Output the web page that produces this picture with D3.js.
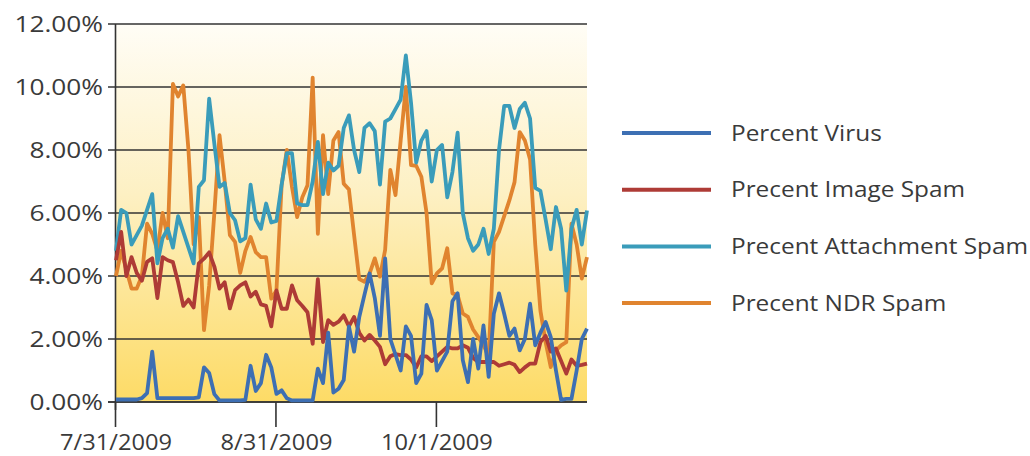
<!DOCTYPE html>
<html lang="en">
<head>
    <meta charset="UTF-8">
    <title>Spam chart</title>
    <script src="https://cdn.jsdelivr.net/npm/d3@7"></script>
    <style>
        body { margin: 0; background: #fff; }
        text { font-family: "Open Sans", sans-serif; fill: #3a3a3a; }
        path.series { fill: none; stroke-width: 3.8px; stroke-linejoin: round; }
        .grid line { stroke: #333; stroke-width: 1.6px; }
    </style>
</head>
<body>
    <svg width=1030 height=456></svg>
    <script>
        // categories: one point per day, first and last day of the data
        var startDay = '7/31/2009',
            endDay = '10/30/2009',
            xTickLabels = ['7/31/2009', '8/31/2009', '10/1/2009'],
            yTicks = [0, 2, 4, 6, 8, 10, 12];

        var seriesNames = ['Percent Virus', 'Precent Image Spam', 'Precent Attachment Spam', 'Precent NDR Spam'];
        var seriesColors = ['#3d6fb3', '#ae3b36', '#3a9cba', '#e0842f'];

        // values in %
        var virus = [0.08,0.08,0.08,0.08,0.08,0.12,0.28,1.6,0.12,0.12,
            0.12,0.12,0.12,0.12,0.12,0.12,0.15,1.1,0.92,0.25,
            0.05,0.05,0.05,0.05,0.05,0.07,1.15,0.35,0.6,1.5,
            1.1,0.26,0.37,0.12,0.05,0.05,0.05,0.05,0.05,1.06,
            0.6,2.2,0.3,0.42,0.7,2.4,1.6,2.7,3.4,4.08,
            3.3,2.1,4.56,2.0,1.5,1.0,2.4,2.1,0.6,0.9,
            3.08,2.6,1.0,1.3,1.6,3.2,3.45,1.33,0.63,2.0,
            1.06,2.43,0.8,2.8,3.45,2.8,2.1,2.33,1.64,2.0,
            3.12,1.8,2.2,2.54,2.06,1.0,0.07,0.1,0.1,1.0,
            2.0,2.33];
        var imageSpam = [4.5,5.4,4.0,4.6,4.1,3.85,4.45,4.56,3.3,4.6,
            4.5,4.44,3.8,3.05,3.25,3.0,4.4,4.55,4.75,4.3,
            3.6,3.8,2.97,3.55,3.7,3.8,3.35,3.5,3.1,3.05,
            2.4,3.54,2.96,2.96,3.7,3.23,3.05,2.85,1.85,3.9,
            1.9,2.6,2.45,2.55,2.75,2.4,2.7,2.2,1.95,2.13,
            1.95,1.75,1.2,1.45,1.52,1.49,1.49,1.35,1.1,1.45,
            1.45,1.3,1.45,1.6,1.75,1.7,1.7,1.8,1.72,1.4,
            1.27,1.27,1.27,1.27,1.15,1.2,1.25,1.18,0.95,1.1,
            1.22,1.22,1.9,2.1,1.6,1.7,1.3,0.9,1.35,1.15,
            1.18,1.22];
        var attachmentSpam = [4.8,6.1,6.0,5.0,5.3,5.6,6.1,6.6,4.4,5.2,
            5.5,4.9,5.9,5.4,4.9,4.4,6.83,7.04,9.63,8.2,
            6.83,6.95,6.0,5.77,5.1,5.2,6.9,5.8,5.5,6.3,
            5.7,5.75,6.9,7.9,7.9,6.3,6.25,6.25,7.0,8.26,
            6.6,7.6,7.35,7.5,8.7,9.1,8.0,7.3,8.7,8.85,
            8.6,6.9,8.9,9.0,9.3,9.6,11.0,9.5,7.6,8.3,
            8.6,7.0,8.0,8.16,6.5,7.3,8.55,6.0,5.2,4.8,
            5.0,5.5,4.7,5.5,8.0,9.4,9.4,8.7,9.3,9.5,
            9.0,6.8,6.7,5.8,4.85,6.19,5.5,3.54,5.5,6.1,
            5.0,6.08];
        var ndrSpam = [4.0,4.8,4.2,3.6,3.6,4.0,5.66,5.34,4.8,6.0,
            5.2,10.1,9.7,10.05,8.0,5.0,5.87,2.28,3.7,6.0,
            8.47,7.0,5.3,5.08,4.1,4.8,5.24,4.76,4.6,4.6,
            3.28,3.54,6.88,8.0,6.83,5.87,6.5,6.88,10.3,5.34,
            8.47,6.6,8.3,8.57,6.93,6.75,5.3,3.9,3.82,4.08,
            4.56,3.98,4.83,7.37,6.57,8.3,10.0,7.52,7.5,7.15,
            6.0,3.77,4.08,4.24,4.88,3.45,3.4,2.81,2.7,2.3,
            2.06,1.8,1.45,5.08,5.4,5.9,6.4,6.98,8.57,8.3,
            7.7,5.0,2.9,1.9,1.11,1.64,1.8,1.9,5.66,5.0,
            3.92,4.6];

        var seriesValues = [virus, imageSpam, attachmentSpam, ndrSpam];

        var svg = d3.select('svg'),
            margin = {top: 24, right: 443, bottom: 54, left: 116},
            chartWidth = 1030 - margin.left - margin.right,
            chartHeight = 456 - margin.top - margin.bottom,
            parseDate = d3.timeParse('%m/%d/%Y'),
            days = d3.timeDay.range(parseDate(startDay), d3.timeDay.offset(parseDate(endDay), 1)),
            xScale = d3.scaleTime().domain([days[0], days[days.length - 1]]).range([0, chartWidth]),
            yScale = d3.scaleLinear().domain([0, 12]).range([chartHeight, 0]);

        // stretch factors so the glyphs are as wide as in the picture
        function stretch(sel, k) {
            sel.each(function() {
                var w = this.getComputedTextLength();
                d3.select(this).attr('textLength', w * k).attr('lengthAdjust', 'spacingAndGlyphs');
            });
        }

        var defs = svg.append('defs');
        var grad = defs.append('linearGradient')
            .attr('id', 'bg')
            .attr('x1', 0).attr('y1', 0).attr('x2', 0).attr('y2', 1);
        grad.append('stop').attr('offset', '0%').attr('stop-color', '#fffdf6');
        grad.append('stop').attr('offset', '45%').attr('stop-color', '#fdf0c3');
        grad.append('stop').attr('offset', '100%').attr('stop-color', '#fddb66');

        var chartG = svg.append('g')
            .attr('transform', 'translate(' + [margin.left, margin.top] + ')');

        chartG.append('rect')
            .attr('width', chartWidth)
            .attr('height', chartHeight)
            .attr('fill', 'url(#bg)');

        // horizontal grid lines
        chartG.append('g')
            .classed('grid', true)
            .selectAll('line')
            .data(yTicks)
            .enter()
            .append('line')
            .attr('x1', -8)
            .attr('x2', chartWidth)
            .attr('y1', function(d) { return yScale(d); })
            .attr('y2', function(d) { return yScale(d); });

        // y axis line
        chartG.append('line')
            .attr('x1', -0.5).attr('x2', -0.5)
            .attr('y1', 0).attr('y2', chartHeight + 8)
            .attr('stroke', '#333').attr('stroke-width', 1.6);

        // y labels
        chartG.append('g')
            .selectAll('text')
            .data(yTicks)
            .enter()
            .append('text')
            .attr('x', -13)
            .attr('y', function(d) { return yScale(d); })
            .attr('dy', '0.36em')
            .attr('text-anchor', 'end')
            .style('font-size', '21px')
            .text(function(d) { return d3.format('.2f')(d) + '%'; })
            .call(stretch, 1.25);

        // x ticks and labels
        var xTicks = xTickLabels.map(function(s) { return parseDate(s); });
        var xAxisG = chartG.append('g')
            .attr('transform', 'translate(0,' + chartHeight + ')');
        xAxisG.selectAll('line')
            .data(xTicks)
            .enter()
            .append('line')
            .attr('x1', function(d) { return xScale(d) - 0.5; })
            .attr('x2', function(d) { return xScale(d) - 0.5; })
            .attr('y1', 0)
            .attr('y2', 25)
            .attr('stroke', '#333')
            .attr('stroke-width', 1.6);
        xAxisG.selectAll('text')
            .data(xTicks)
            .enter()
            .append('text')
            .attr('x', function(d) { return xScale(d); })
            .attr('y', 48)
            .attr('text-anchor', 'middle')
            .style('font-size', '21.5px')
            .text(function(d, i) { return xTickLabels[i]; })
            .call(stretch, 1.1);

        // bottom axis line
        chartG.append('line')
            .attr('x1', -8).attr('x2', chartWidth)
            .attr('y1', chartHeight).attr('y2', chartHeight)
            .attr('stroke', '#333').attr('stroke-width', 1.6);

        var lineG = d3.line()
            .x(function(d, i) { return xScale(days[i]); })
            .y(function(d) { return yScale(d); });

        // NDR drawn first, virus last (on top)
        var order = [3, 2, 1, 0];
        chartG.selectAll('path.series')
            .data(order)
            .enter()
            .append('path')
            .classed('series', true)
            .attr('stroke', function(k) { return seriesColors[k]; })
            .attr('d', function(k) { return lineG(seriesValues[k]); });

        // legend
        var legendG = svg.append('g')
            .attr('transform', 'translate(622,133)');
        var items = legendG.selectAll('g')
            .data(seriesNames)
            .enter()
            .append('g')
            .attr('transform', function(d, i) { return 'translate(0,' + (i * 56.7) + ')'; });
        items.append('line')
            .attr('x1', 0).attr('x2', 89)
            .attr('y1', 0).attr('y2', 0)
            .attr('stroke-width', 4)
            .attr('stroke', function(d, i) { return seriesColors[i]; });
        items.append('text')
            .attr('x', 109)
            .attr('dy', '0.36em')
            .style('font-size', '21px')
            .text(function(d) { return d; })
            .call(stretch, 1.16);
    </script>
</body>
</html>
